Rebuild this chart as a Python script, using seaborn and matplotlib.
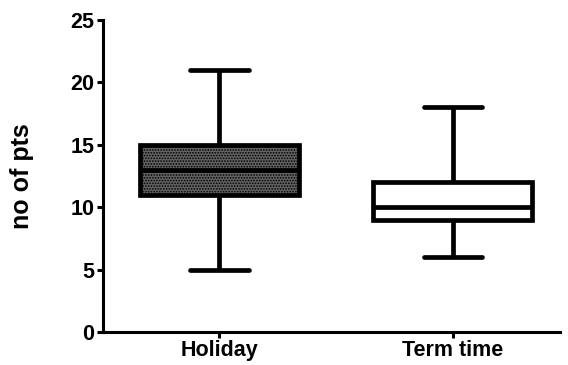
import matplotlib
matplotlib.use("Agg")
import matplotlib.pyplot as plt
import seaborn as sns
import pandas as pd

# Five-number summaries (min, Q1, median, Q3, max) per period
categories = ["Holiday", "Term time"]
holiday = [5, 11, 13, 15, 21]
term_time = [6, 9, 10, 12, 18]
y_ticks = [0, 5, 10, 15, 20, 25]

df = pd.DataFrame({
    "period": [categories[0]] * len(holiday) + [categories[1]] * len(term_time),
    "pts": holiday + term_time,
})

sns.set_style("ticks")
plt.rcParams["font.family"] = ["Liberation Sans", "DejaVu Sans"]
plt.rcParams["font.weight"] = "bold"
plt.rcParams["hatch.linewidth"] = 0.8
plt.rcParams["text.color"] = "black"
plt.rcParams["axes.labelcolor"] = "black"
plt.rcParams["xtick.color"] = "black"
plt.rcParams["ytick.color"] = "black"

fig = plt.figure(figsize=(5.68, 3.65), dpi=100)
ax = fig.add_axes([0.181, 0.0904, 0.805, 0.855])

lw = 3.4
sns.boxplot(
    data=df, x="period", y="pts", order=categories,
    whis=(0, 100), width=0.68, linewidth=lw, linecolor="black",
    color="white", saturation=1, ax=ax,
    medianprops=dict(color="black", linewidth=lw),
    whiskerprops=dict(color="black", linewidth=lw),
    capprops=dict(color="black", linewidth=lw),
    boxprops=dict(edgecolor="black", linewidth=lw),
    capwidths=0.25,
)

# Stippled grey fill for the holiday box
box = ax.patches[0]
box.set_facecolor("#626262")
box.set_hatch("......")

ax.set_xlim(-0.5, 1.46)
ax.set_ylim(0, 25)
ax.set_yticks(y_ticks)
ax.set_xlabel("")
ax.set_ylabel("no of pts", fontsize=18, fontweight="bold", labelpad=26,
              color="black")

for lab in ax.get_xticklabels() + ax.get_yticklabels():
    lab.set_fontsize(15.5)
    lab.set_fontweight("bold")
    lab.set_color("black")

sns.despine(ax=ax)
for s in ("left", "bottom"):
    ax.spines[s].set_linewidth(2.2)
    ax.spines[s].set_color("black")
ax.tick_params(axis="both", width=2.2, length=4, color="black", pad=2)

fig.savefig("out.png", dpi=100)
